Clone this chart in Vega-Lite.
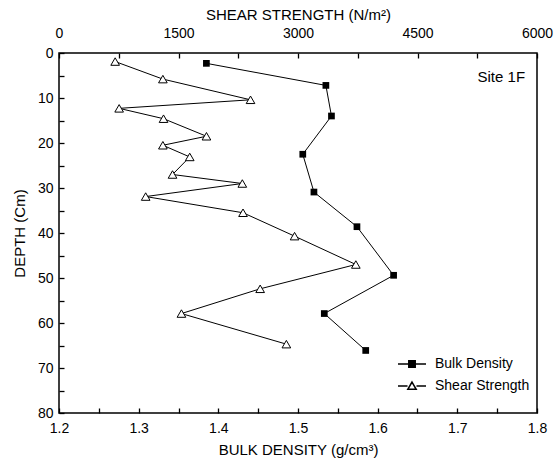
{
  "$schema": "https://vega.github.io/schema/vega-lite/v6.json",
  "width": 478,
  "height": 360,
  "autosize": {"type": "none"},
  "padding": {"left": 59, "top": 53, "right": 23, "bottom": 51},
  "background": "white",
  "config": {
    "font": "Liberation Sans",
    "view": {"stroke": "black", "strokeWidth": 1.5},
    "axis": {
      "grid": false,
      "domain": false,
      "offset": -5,
      "ticks": true,
      "tickColor": "black",
      "tickWidth": 1.3,
      "tickSize": 5,
      "labelColor": "black",
      "labelFont": "Liberation Sans",
      "labelFontSize": 14,
      "titleColor": "black",
      "titleFont": "Liberation Sans",
      "titleFontSize": 15,
      "titleFontWeight": "normal",
      "labelOverlap": false,
      "labelFlush": false
    }
  },
  "encoding": {
    "y": {
      "field": "depth",
      "type": "quantitative",
      "scale": {"domain": [0, 80], "reverse": true, "nice": false, "zero": false},
      "axis": {
        "title": "DEPTH (Cm)",
        "values": [0, 5, 10, 15, 20, 25, 30, 35, 40, 45, 50, 55, 60, 65, 70, 75, 80],
        "labelExpr": "datum.value % 10 == 0 ? datum.label : ''",
        "labelPadding": 6,
        "titlePadding": 10
      }
    }
  },
  "layer": [
    {
      "data": {
        "values": [
          {"density": 1.385, "depth": 2.3},
          {"density": 1.535, "depth": 7.2},
          {"density": 1.542, "depth": 14.0},
          {"density": 1.506, "depth": 22.5},
          {"density": 1.52, "depth": 30.9},
          {"density": 1.574, "depth": 38.6},
          {"density": 1.62, "depth": 49.4},
          {"density": 1.533, "depth": 57.9},
          {"density": 1.585, "depth": 66.1}
        ]
      },
      "encoding": {
        "x": {
          "field": "density",
          "type": "quantitative",
          "scale": {"domain": [1.2, 1.8], "nice": false, "zero": false},
          "axis": {
            "orient": "bottom",
            "title": "BULK DENSITY (g/cm³)",
            "values": [1.2, 1.25, 1.3, 1.35, 1.4, 1.45, 1.5, 1.55, 1.6, 1.65, 1.7, 1.75, 1.8],
            "labelExpr": "round(datum.value * 100) % 10 == 0 ? format(datum.value, '.1f') : ''",
            "labelPadding": 8,
            "titlePadding": 7
          }
        }
      },
      "layer": [
        {
          "mark": {"type": "line", "color": "black", "strokeWidth": 1},
          "encoding": {"order": {"field": "depth", "type": "quantitative"}}
        },
        {
          "mark": {"type": "point", "shape": "square", "filled": true, "color": "black", "size": 45, "opacity": 1}
        },
        {
          "data": {"values": [{"density": 1.785, "depth": 5.3, "label": "Site 1F"}]},
          "mark": {"type": "text", "align": "right", "baseline": "middle", "fontSize": 15, "font": "Liberation Sans", "color": "black"},
          "encoding": {"text": {"field": "label"}}
        }
      ]
    },
    {
      "data": {
        "values": [
          {"shear": 705, "depth": 1.9},
          {"shear": 1304, "depth": 5.8},
          {"shear": 2404, "depth": 10.4},
          {"shear": 755, "depth": 12.3},
          {"shear": 1312, "depth": 14.6},
          {"shear": 1851, "depth": 18.5},
          {"shear": 1304, "depth": 20.5},
          {"shear": 1641, "depth": 23.1},
          {"shear": 1425, "depth": 27.0},
          {"shear": 2301, "depth": 29.0},
          {"shear": 1088, "depth": 31.9},
          {"shear": 2310, "depth": 35.5},
          {"shear": 2957, "depth": 40.7},
          {"shear": 3726, "depth": 47.0},
          {"shear": 2525, "depth": 52.4},
          {"shear": 1537, "depth": 57.9},
          {"shear": 2854, "depth": 64.7}
        ]
      },
      "encoding": {
        "x": {
          "field": "shear",
          "type": "quantitative",
          "scale": {"domain": [0, 6000], "nice": false},
          "axis": {
            "orient": "top",
            "title": "SHEAR STRENGTH (N/m²)",
            "values": [0, 750, 1500, 2250, 3000, 3750, 4500, 5250, 6000],
            "labelExpr": "datum.value % 1500 == 0 ? datum.value : ''",
            "labelPadding": 13,
            "titlePadding": 4
          }
        }
      },
      "layer": [
        {
          "mark": {"type": "line", "color": "black", "strokeWidth": 1},
          "encoding": {"order": {"field": "depth", "type": "quantitative"}}
        },
        {
          "mark": {"type": "point", "shape": "triangle-up", "filled": true, "fill": "white", "stroke": "black", "strokeWidth": 1, "size": 75, "opacity": 1}
        }
      ]
    },
    {
      "data": {
        "values": [
          {"series": "Bulk Density", "depth": 70},
          {"series": "Shear Strength", "depth": 75}
        ]
      },
      "mark": {"type": "point", "filled": false, "stroke": "black", "strokeWidth": 1, "opacity": 0},
      "encoding": {
        "shape": {
          "field": "series",
          "type": "nominal",
          "scale": {
            "domain": ["Bulk Density", "Shear Strength"],
            "range": [
              "M-1,0H-0.25M0.25,0H1M-0.23,-0.23H0.23V0.23H-0.23ZM-0.23,-0.15H0.23M-0.23,-0.08H0.23M-0.23,0H0.23M-0.23,0.08H0.23M-0.23,0.15H0.23",
              "M-1,0H-0.32M0.32,0H1M0,-0.28L0.3,0.24H-0.3Z"
            ]
          },
          "legend": {
            "title": null,
            "orient": "none",
            "legendX": 338,
            "legendY": 296,
            "padding": 0,
            "symbolSize": 784,
            "labelFont": "Liberation Sans",
            "labelFontSize": 14,
            "labelColor": "black",
            "labelOffset": 8,
            "rowPadding": 0,
            "encode": {
              "symbols": {
                "update": {
                  "stroke": {"value": "black"},
                  "strokeWidth": {"value": 1},
                  "opacity": {"value": 1},
                  "fill": {"value": "white"}
                }
              }
            }
          }
        }
      }
    }
  ],
  "resolve": {"scale": {"x": "independent"}, "axis": {"x": "independent"}}
}
